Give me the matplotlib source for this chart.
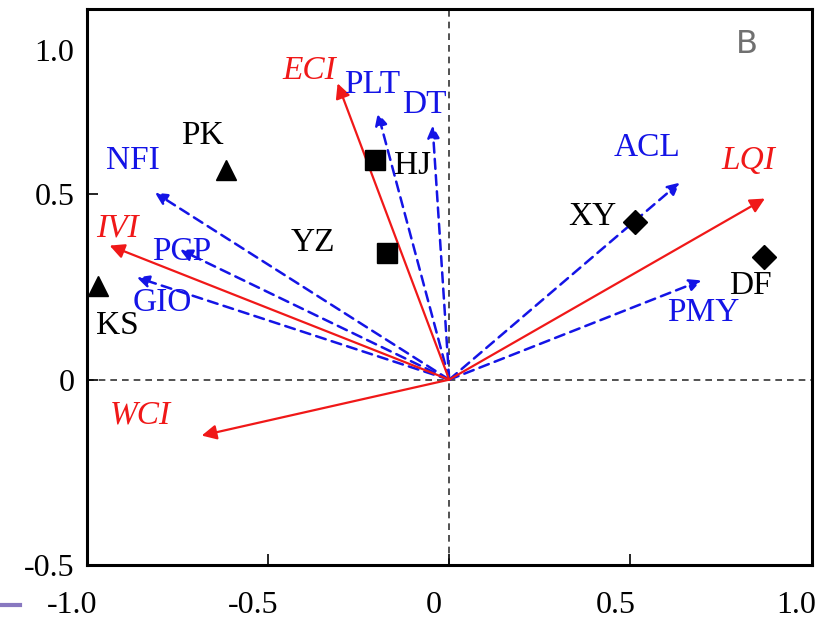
import matplotlib
matplotlib.use("Agg")
import matplotlib.pyplot as plt
import matplotlib.transforms as mtransforms
from matplotlib.patches import FancyArrowPatch
from matplotlib.lines import Line2D

plt.rcParams['font.family'] = ['Liberation Serif', 'DejaVu Serif']

# --- environmental factor vectors (red, solid, italic labels)
env_names = ['ECI', 'IVI', 'WCI', 'LQI']
env_x = [-0.308, -0.937, -0.683, 0.871]
env_y = [0.800, 0.362, -0.151, 0.489]
env_lab_x = [-0.385, -0.915, -0.853, 0.825]
env_lab_y = [0.835, 0.408, -0.097, 0.592]

# --- response variable vectors (blue, dashed)
var_names = ['NFI', 'PCP', 'GIO', 'PLT', 'DT', 'ACL', 'PMY']
var_x = [-0.812, -0.743, -0.862, -0.197, -0.046, 0.636, 0.696]
var_y = [0.505, 0.351, 0.276, 0.720, 0.686, 0.532, 0.268]
var_lab_x = [-0.873, -0.738, -0.793, -0.212, -0.068, 0.545, 0.702]
var_lab_y = [0.592, 0.346, 0.208, 0.795, 0.741, 0.625, 0.181]

# --- sites
site_names = ['PK', 'KS', 'HJ', 'YZ', 'XY', 'DF']
site_x = [-0.617, -0.970, -0.206, -0.172, 0.514, 0.868]
site_y = [0.565, 0.254, 0.592, 0.343, 0.427, 0.330]
site_marker = ['^', '^', 's', 's', 'D', 'D']
site_lab_x = [-0.682, -0.917, -0.100, -0.376, 0.395, 0.832]
site_lab_y = [0.659, 0.146, 0.578, 0.370, 0.441, 0.254]

xticks = [-1.0, -0.5, 0, 0.5, 1.0]
xtick_labels = ['-1.0', '-0.5', '0', '0.5', '1.0']
yticks = [-0.5, 0, 0.5, 1.0]
ytick_labels = ['-0.5', '0', '0.5', '1.0']

red = '#f01818'
blue = '#1414e6'

fig = plt.figure(figsize=(8.19, 6.2), dpi=100)
ax = fig.add_axes([0.106, 0.089, 0.885, 0.896])
ax.set_xlim(-1.0, 1.0)
ax.set_ylim(-0.5, 1.0)

ax.axhline(0, color='#333333', lw=1.2, ls=(0, (4, 3)), zorder=1)
ax.axvline(0, color='#333333', lw=1.2, ls=(0, (4, 3)), zorder=1)

for x, y, n, lx, ly in zip(env_x, env_y, env_names, env_lab_x, env_lab_y):
    ax.add_patch(FancyArrowPatch((0, 0), (x, y), arrowstyle='-|>', mutation_scale=22,
                                 color=red, lw=1.6, shrinkA=0, shrinkB=0, zorder=3))
    ax.text(lx, ly, n, color=red, fontsize=24, style='italic', ha='center', va='center')

for x, y, n, lx, ly in zip(var_x, var_y, var_names, var_lab_x, var_lab_y):
    ax.add_patch(FancyArrowPatch((0, 0), (x, y), arrowstyle='-|>', mutation_scale=18,
                                 color=blue, lw=1.8, ls=(0, (4, 2.5)), shrinkA=0, shrinkB=0,
                                 zorder=2))
    ax.text(lx, ly, n, color=blue, fontsize=24, ha='center', va='center')

for x, y, m, n, lx, ly in zip(site_x, site_y, site_marker, site_names, site_lab_x, site_lab_y):
    ax.plot(x, y, marker=m, color='black', ms=15 if m != 'D' else 12, ls='none', zorder=4)
    ax.text(lx, ly, n, color='black', fontsize=24, ha='center', va='center')

ax.text(0.82, 0.905, 'B', color='#707070', fontsize=23, family='DejaVu Sans',
        ha='center', va='center')

ax.set_xticks(xticks)
ax.set_xticklabels(xtick_labels)
ax.set_yticks(yticks)
ax.set_yticklabels(ytick_labels)
ax.tick_params(direction='in', length=8, width=1.2, labelsize=23)
ax.tick_params(axis='x', pad=19)
ax.tick_params(axis='y', pad=9)
ax.tick_params(top=False, right=False)
for s in ax.spines.values():
    s.set_linewidth(2.2)

# tick labels in the source sit slightly off their ticks
shift_x = mtransforms.ScaledTranslation(-15 / 100, 0, fig.dpi_scale_trans)
for lab in ax.get_xticklabels():
    lab.set_transform(lab.get_transform() + shift_x)
top_lab = ax.get_yticklabels()[-1]
top_lab.set_transform(top_lab.get_transform()
                      + mtransforms.ScaledTranslation(0, -41 / 100, fig.dpi_scale_trans))

# small purple mark at bottom left of the source image
fig.add_artist(Line2D([0.0, 0.025], [0.025, 0.025], color='#8878c0', lw=3))

fig.savefig('out.png', dpi=100)
